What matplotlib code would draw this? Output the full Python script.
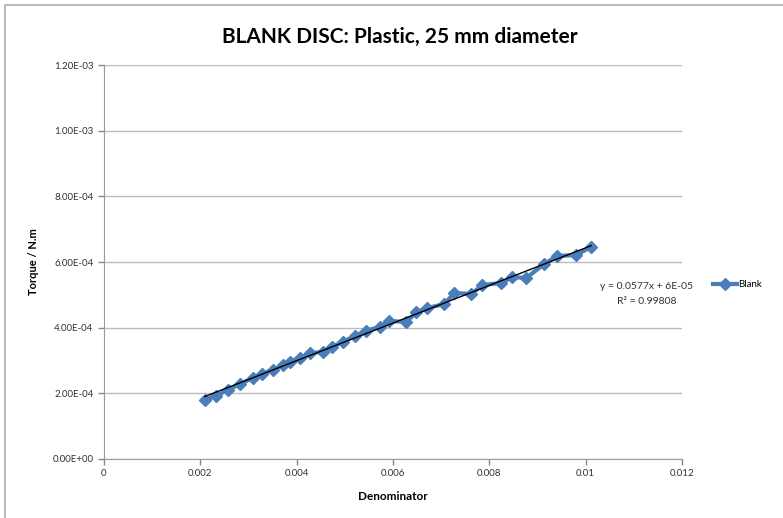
import numpy as np
import matplotlib.pyplot as plt
from matplotlib.patches import Rectangle

# Blank disc data
denominator = [0.002093, 0.002321, 0.002570, 0.002819, 0.003088, 0.003275, 0.003503, 0.003710,
               0.003855, 0.004062, 0.004269, 0.004539, 0.004725, 0.004953, 0.005202, 0.005430,
               0.005720, 0.005927, 0.006280, 0.006487, 0.006715, 0.007067, 0.007274, 0.007627,
               0.007855, 0.008249, 0.008477, 0.008767, 0.009140, 0.009409, 0.009803, 0.010114]
torque = [1.797e-4, 1.919e-4, 2.102e-4, 2.285e-4, 2.467e-4, 2.589e-4, 2.711e-4, 2.863e-4,
          2.955e-4, 3.076e-4, 3.229e-4, 3.259e-4, 3.412e-4, 3.564e-4, 3.747e-4, 3.899e-4,
          4.021e-4, 4.203e-4, 4.173e-4, 4.478e-4, 4.599e-4, 4.721e-4, 5.056e-4, 5.026e-4,
          5.300e-4, 5.361e-4, 5.544e-4, 5.513e-4, 5.940e-4, 6.183e-4, 6.214e-4, 6.458e-4]

x_ticks = [0, 0.002, 0.004, 0.006, 0.008, 0.010, 0.012]
x_labels = ['0', '0.002', '0.004', '0.006', '0.008', '0.01', '0.012']
y_ticks = [0, 2e-4, 4e-4, 6e-4, 8e-4, 1e-3, 1.2e-3]
y_labels = ['0.00E+00', '2.00E-04', '4.00E-04', '6.00E-04', '8.00E-04', '1.00E-03', '1.20E-03']

plt.rcParams['font.family'] = ['Lato', 'DejaVu Sans']

fig = plt.figure(figsize=(7.83, 5.18), dpi=100)
ax = fig.add_axes([0.1328, 0.1139, 0.7382, 0.7606])

# outer chart border
fig.patches.append(Rectangle((0.006, -0.01), 1.1, 1.0, transform=fig.transFigure,
                             fill=False, edgecolor='#bbbbbb', linewidth=1.5))

blue = '#4A7EBB'
ax.plot(denominator, torque, marker='D', markersize=6, linestyle='-', linewidth=3,
        color=blue, label='Blank', zorder=3)

# linear trendline
m, c = np.polyfit(denominator, torque, 1)
xs = np.array([min(denominator), max(denominator)])
ax.plot(xs, m * xs + c, color='black', linewidth=1, zorder=4)

ax.text(0.01127, 5.02e-4, 'y = 0.0577x + 6E-05\nR² = 0.99808', ha='center', va='center',
        fontsize=7.5, color='#333333', linespacing=1.8)

ax.set_xlim(0, 0.012)
ax.set_ylim(0, 1.2e-3)
ax.set_xticks(x_ticks)
ax.set_xticklabels(x_labels)
ax.set_yticks(y_ticks)
ax.set_yticklabels(y_labels)
ax.tick_params(labelsize=7, colors='#888888', labelcolor='#333333', length=4, width=1)
ax.grid(axis='y', color='#bbbbbb', linewidth=1)
ax.set_axisbelow(True)
for s in ['top', 'right']:
    ax.spines[s].set_visible(False)
for s in ['left', 'bottom']:
    ax.spines[s].set_color('#999999')

ax.set_xlabel('Denominator', fontsize=8.5, fontweight='bold', labelpad=9)
ax.set_ylabel('Torque / N.m', fontsize=8, fontweight='bold', labelpad=10)
fig.text(0.511, 0.928, 'BLANK DISC: Plastic, 25 mm diameter', ha='center', va='center',
         fontsize=15, fontweight='bold')

fig.legend(loc='center left', bbox_to_anchor=(0.905, 0.45), frameon=False, fontsize=7,
           handlelength=2.5, handletextpad=0.1, borderaxespad=0)

fig.savefig('out.png', dpi=100)
